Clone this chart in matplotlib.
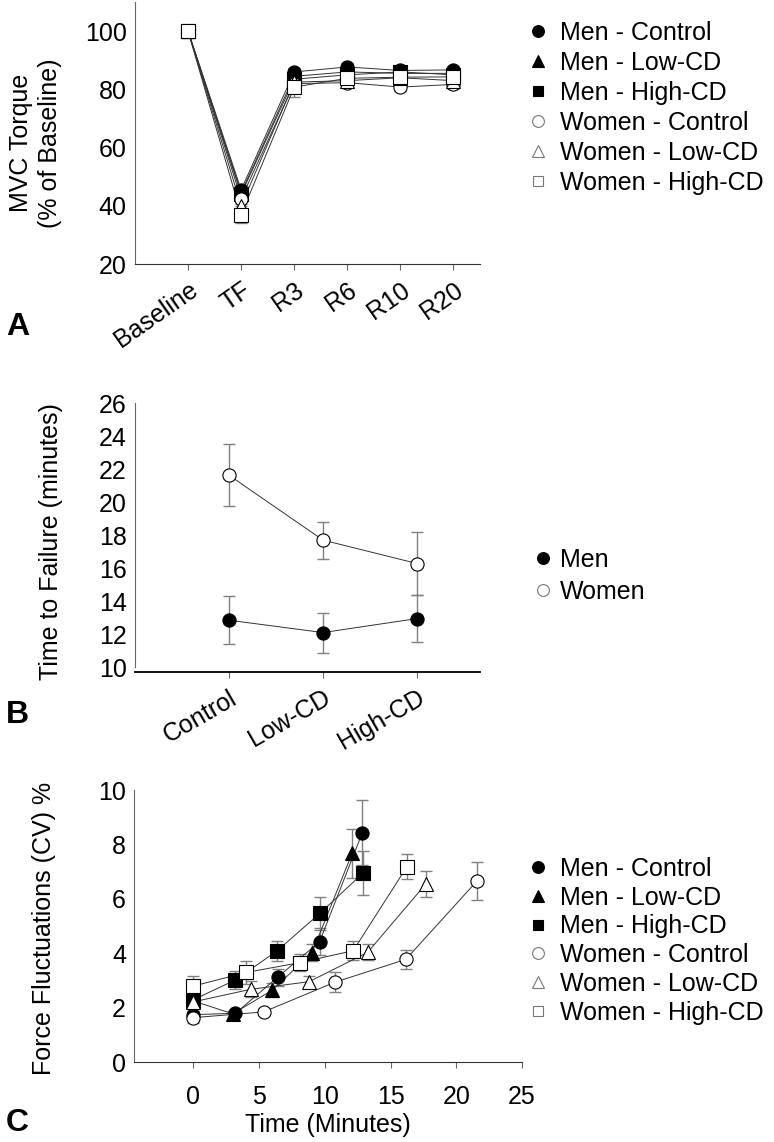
import matplotlib
matplotlib.use("Agg")
import matplotlib.pyplot as plt
from matplotlib.lines import Line2D

plt.rcParams['font.family'] = ['Liberation Sans', 'DejaVu Sans']

# ---- panel A: MVC torque ----
a_labels = ['Baseline', 'TF', 'R3', 'R6', 'R10', 'R20']
a_men_ctrl = [100, 45.5, 86.0, 87.7, 86.5, 86.7]
a_men_low = [100, 44.5, 84.5, 86.0, 85.5, 85.5]
a_men_high = [100, 44.0, 83.5, 85.0, 86.0, 85.0]
a_wom_ctrl = [100, 42.5, 82.0, 82.3, 80.8, 81.7]
a_wom_low = [100, 40.0, 82.5, 83.0, 84.0, 83.0]
a_wom_high = [100, 37.0, 80.8, 83.8, 84.2, 84.3]
a_err_men = [1.0, 1.5, 1.5, 1.2, 1.2, 1.2]
a_err_wom = [1.0, 2.0, 2.0, 1.5, 1.5, 1.5]
a_err_wh = [1.0, 3.0, 3.5, 1.5, 1.5, 1.5]

# ---- panel B: time to failure ----
b_labels = ['Control', 'Low-CD', 'High-CD']
b_men = [12.84, 12.09, 12.94]
b_men_err = [1.44, 1.21, 1.43]
b_wom = [21.64, 17.70, 16.28]
b_wom_err = [1.88, 1.12, 1.93]

# ---- panel C: force fluctuations ----
c_men_ctrl_x = [0, 3.2, 6.4, 9.6, 12.85]
c_men_ctrl_y = [1.75, 1.8, 3.12, 4.43, 8.43]
c_men_ctrl_e = [0.15, 0.1, 0.3, 0.5, 1.2]
c_men_low_x = [0, 3.0, 6.0, 9.03, 12.08]
c_men_low_y = [2.25, 1.78, 2.65, 4.03, 7.68]
c_men_low_e = [0.15, 0.1, 0.25, 0.3, 0.9]
c_men_high_x = [0, 3.18, 6.36, 9.62, 12.88]
c_men_high_y = [2.3, 3.02, 4.09, 5.47, 6.94]
c_men_high_e = [0.2, 0.33, 0.38, 0.6, 0.81]
c_wom_ctrl_x = [0, 5.34, 10.76, 16.16, 21.58]
c_wom_ctrl_y = [1.64, 1.85, 2.94, 3.78, 6.66]
c_wom_ctrl_e = [0.2, 0.1, 0.37, 0.35, 0.7]
c_wom_low_x = [0, 4.35, 8.8, 13.26, 17.68]
c_wom_low_y = [2.22, 2.68, 2.96, 4.04, 6.55]
c_wom_low_e = [0.2, 0.3, 0.2, 0.3, 0.48]
c_wom_high_x = [0, 4.02, 8.09, 12.16, 16.24]
c_wom_high_y = [2.8, 3.3, 3.66, 4.1, 7.18]
c_wom_high_e = [0.37, 0.43, 0.3, 0.35, 0.46]

series_names = ['Men - Control', 'Men - Low-CD', 'Men - High-CD',
                'Women - Control', 'Women - Low-CD', 'Women - High-CD']
markers = ['o', '^', 's', 'o', '^', 's']
filled = [True, True, True, False, False, False]

FS = 18
ms = 9.5


def draw_series(ax, x, y, e, marker, fill):
    ax.errorbar(x, y, yerr=e, fmt='none', ecolor='#808080', elinewidth=1.0,
                capsize=4, capthick=1.0, zorder=2)
    ax.plot(x, y, color='#333333', linewidth=0.7, zorder=3)
    ax.plot(x, y, linestyle='none', marker=marker, markersize=ms,
            markerfacecolor='black' if fill else 'white',
            markeredgecolor='black', markeredgewidth=0.8, zorder=4)


def legend_handles(names, mk, fl):
    hs = []
    for n, m, f in zip(names, mk, fl):
        hs.append(Line2D([], [], linestyle='none', marker=m,
                         markersize=8.5 if m != 's' else 7.5,
                         markerfacecolor='black' if f else 'white',
                         markeredgecolor='black' if f else '#777777',
                         markeredgewidth=0.8, label=n))
    return hs


def add_legend(ax, handles, x, y, spacing, textpad):
    ax.legend(handles=handles, loc='upper left', bbox_to_anchor=(x, y),
              bbox_transform=fig.transFigure, frameon=False, fontsize=FS,
              handlelength=0.8, handletextpad=textpad, labelspacing=spacing,
              borderpad=0, borderaxespad=0)


def style_axes(ax):
    for s in ['top', 'right']:
        ax.spines[s].set_visible(False)
    ax.spines['left'].set_color('#666666')
    ax.spines['bottom'].set_color('#333333')
    ax.tick_params(axis='y', length=0, labelsize=FS, pad=6)
    ax.tick_params(axis='x', length=4, color='#666666', labelsize=FS, pad=6)


fig = plt.figure(figsize=(7.74, 11.42), dpi=100)

# ---------- A ----------
axA = fig.add_axes([0.1744, 0.7688, 0.4458, 0.2294])
xa = list(range(len(a_labels)))
a_data = [a_men_ctrl, a_men_low, a_men_high, a_wom_ctrl, a_wom_low, a_wom_high]
a_errs = [a_err_men, a_err_men, a_err_men, a_err_wom, a_err_wom, a_err_wh]
for d, e, m, f in zip(a_data, a_errs, markers, filled):
    draw_series(axA, xa, d, e, m, f)
axA.set_xlim(-1, 5.5)
axA.set_ylim(20, 110)
axA.set_yticks([20, 40, 60, 80, 100])
axA.set_xticks(xa)
axA.set_xticklabels(a_labels, rotation=35, ha='right', rotation_mode='anchor')
style_axes(axA)
axA.set_ylabel('MVC Torque\n(% of Baseline)', fontsize=FS, linespacing=1.25)
axA.yaxis.set_label_coords(-0.212, 0.462)
add_legend(axA, legend_handles(series_names, markers, filled), 0.682, 0.9816, 0.24, 0.48)
fig.text(0.008, 0.714, 'A', fontsize=23, fontweight='bold', va='center', ha='left')

# ---------- B ----------
axB = fig.add_axes([0.1744, 0.4116, 0.4458, 0.2352])
xb = list(range(len(b_labels)))
draw_series(axB, xb, b_men, b_men_err, 'o', True)
draw_series(axB, xb, b_wom, b_wom_err, 'o', False)
axB.set_xlim(-1, 2.67)
axB.set_ylim(9.7, 26)
axB.set_yticks(range(10, 27, 2))
axB.spines['left'].set_bounds(10, 26)
axB.set_xticks(xb)
axB.set_xticklabels(b_labels, rotation=30, ha='right', rotation_mode='anchor')
style_axes(axB)
axB.spines['bottom'].set_color('black')
axB.spines['bottom'].set_linewidth(1.3)
axB.set_ylabel('Time to Failure (minutes)', fontsize=FS)
axB.yaxis.set_label_coords(-0.21, 0.487)
add_legend(axB, legend_handles(['Men', 'Women'], ['o', 'o'], [True, False]),
           0.6886, 0.5201, 0.3, 0.28)
fig.text(0.008, 0.374, 'B', fontsize=23, fontweight='bold', va='center', ha='left')

# ---------- C ----------
axC = fig.add_axes([0.1735, 0.0698, 0.5009, 0.2384])
c_x = [c_men_ctrl_x, c_men_low_x, c_men_high_x, c_wom_ctrl_x, c_wom_low_x, c_wom_high_x]
c_y = [c_men_ctrl_y, c_men_low_y, c_men_high_y, c_wom_ctrl_y, c_wom_low_y, c_wom_high_y]
c_e = [c_men_ctrl_e, c_men_low_e, c_men_high_e, c_wom_ctrl_e, c_wom_low_e, c_wom_high_e]
for x, y, e, m, f in zip(c_x, c_y, c_e, markers, filled):
    draw_series(axC, x, y, e, m, f)
axC.set_xlim(-4.5, 25)
axC.set_ylim(0, 10)
axC.set_xticks([0, 5, 10, 15, 20, 25])
axC.set_yticks([0, 2, 4, 6, 8, 10])
style_axes(axC)
axC.tick_params(axis='x', pad=12)
axC.set_ylabel('Force Fluctuations (CV) %', fontsize=FS)
axC.yaxis.set_label_coords(-0.202, 0.49)
axC.set_xlabel('Time (Minutes)', fontsize=FS, labelpad=3)
add_legend(axC, legend_handles(series_names, markers, filled), 0.682, 0.2496, 0.19, 0.48)
fig.text(0.008, 0.017, 'C', fontsize=23, fontweight='bold', va='center', ha='left')

fig.savefig('out.png', dpi=100)
